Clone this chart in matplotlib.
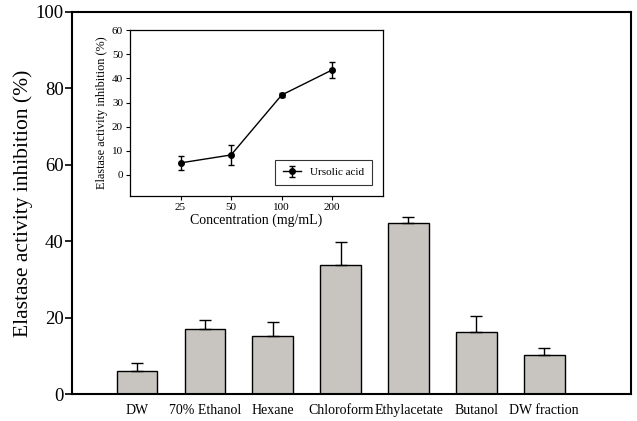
import numpy as np
from matplotlib import pyplot as plt

plt.rcParams['font.family'] = ['Liberation Serif', 'DejaVu Serif']

# main bar chart
fractions = ["DW", "70% Ethanol", "Hexane", "Chloroform", "Ethylacetate", "Butanol", "DW fraction"]
inhibition = [6.1, 16.9, 15.1, 33.9, 44.9, 16.2, 10.1]
inhibition_err = [1.9, 2.6, 3.7, 5.8, 1.4, 4.2, 2.0]

# inset: ursolic acid
conc_labels = ["25", "50", "100", "200"]
ursolic = [5.0, 8.3, 33.1, 43.5]
ursolic_err = [2.8, 4.3, 1.0, 3.3]

fig = plt.figure(figsize=(6.37, 4.21), dpi=100)
ax = fig.add_axes([0.113, 0.064, 0.8776, 0.9075])

xs = np.arange(len(fractions))
ax.bar(xs, inhibition, width=0.6, color="#c8c4c0", edgecolor="black", linewidth=1.0)
ax.errorbar(xs, inhibition, yerr=[np.zeros(len(xs)), inhibition_err], fmt="none",
            ecolor="black", elinewidth=1.0, capsize=4, capthick=1.0)
ax.set_xlim(-0.96, len(fractions) - 1 + 1.28)
ax.set_ylim(0, 100)
ax.set_yticks([0, 20, 40, 60, 80, 100])
ax.set_xticks(xs)
ax.set_xticklabels(fractions, fontsize=10)
ax.tick_params(axis="x", length=0, pad=7)
ax.tick_params(axis="y", labelsize=13.5, length=5, width=1.2, direction="out", pad=1)
ax.set_ylabel("Elastase activity inhibition (%)", fontsize=15.5, labelpad=2)
for sp in ax.spines.values():
    sp.set_linewidth(1.5)

# inset
ins = fig.add_axes([0.204, 0.5344, 0.397, 0.3943])
cx = np.arange(len(conc_labels))
ins.errorbar(cx, ursolic, yerr=ursolic_err, fmt="-o", color="black", markersize=4,
             linewidth=1.0, elinewidth=1.0, capsize=2.5, label="Ursolic acid")
ins.set_xlim(-1, 4)
ins.set_ylim(-8.7, 60)
ins.set_yticks([0, 10, 20, 30, 40, 50, 60])
ins.set_xticks(cx)
ins.set_xticklabels(conc_labels)
ins.tick_params(labelsize=8, length=3, width=0.8, direction="out", pad=2)
ins.set_ylabel("Elastase activity inhibition (%)", fontsize=8.8, labelpad=3)
ins.set_xlabel("Concentration (mg/mL)", fontsize=10, labelpad=1)
leg = ins.legend(loc="lower right", fontsize=8, frameon=True, fancybox=False,
                 edgecolor="black", borderpad=0.7, handlelength=1.6,
                 borderaxespad=1.0)
leg.get_frame().set_linewidth(0.8)
for sp in ins.spines.values():
    sp.set_linewidth(0.9)

fig.savefig("out.png", dpi=100)
